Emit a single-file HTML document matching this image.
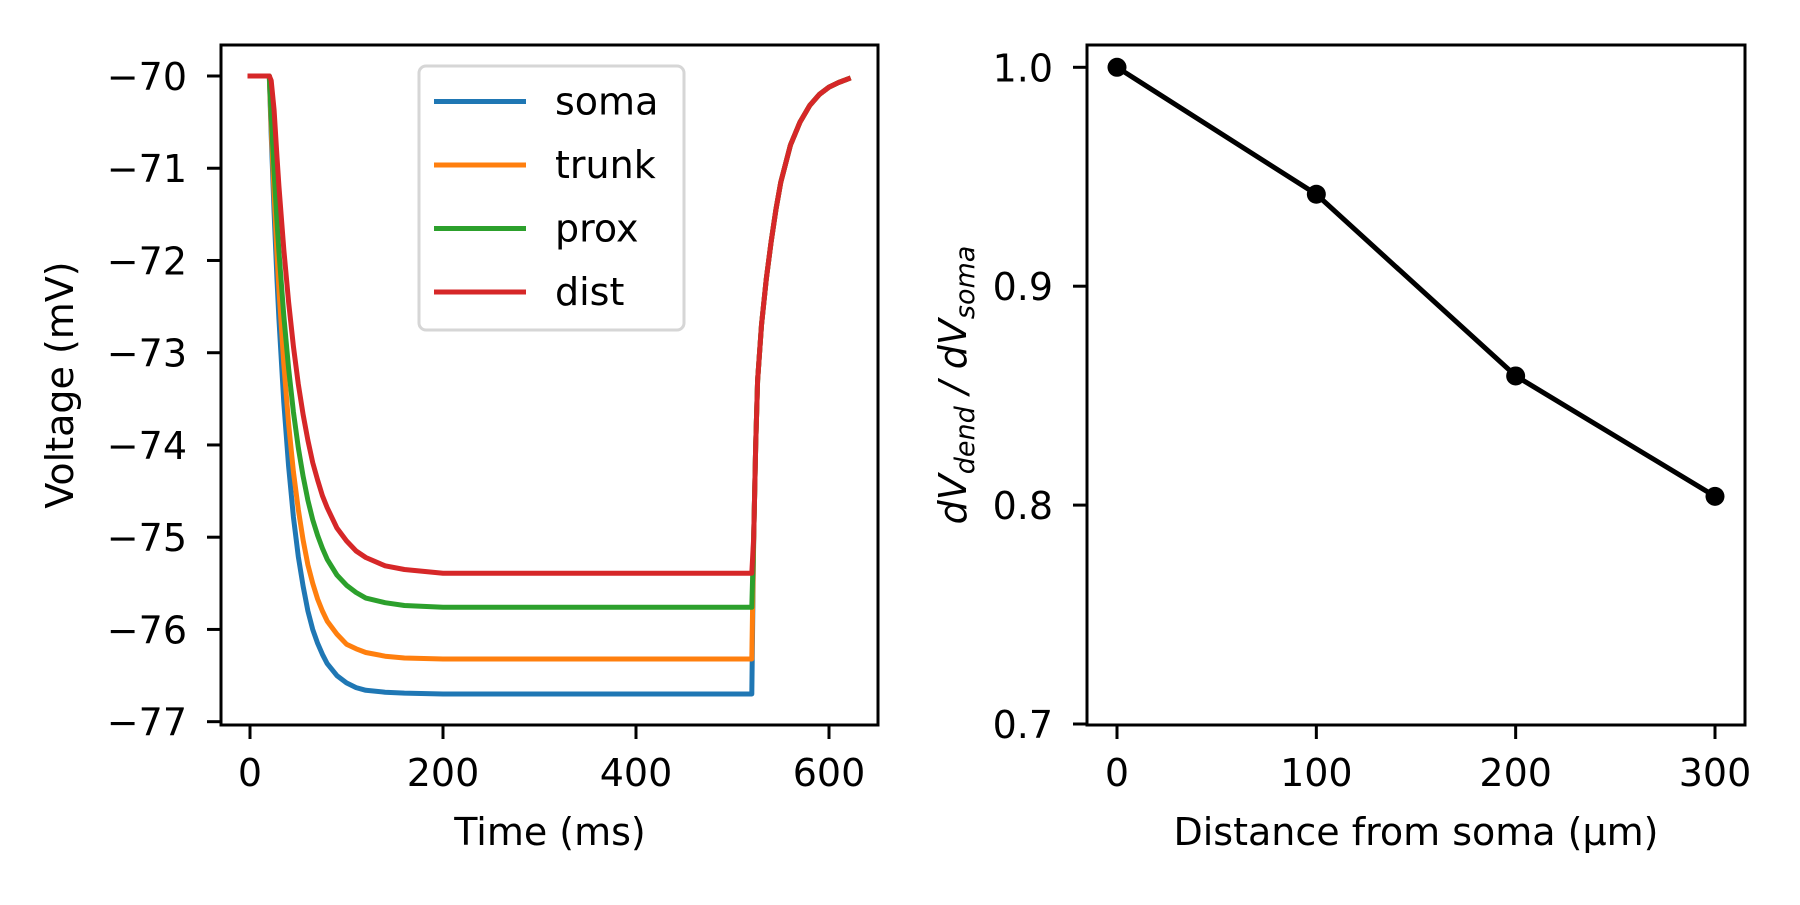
<!DOCTYPE html>
<html><head><meta charset="utf-8"><style>
body{margin:0;background:#fff}
svg text{font-family:"DejaVu Sans","Liberation Sans",sans-serif;fill:#000}
</style></head><body>
<svg id="fig" width="1800" height="900" viewBox="0 0 1800 900" xmlns="http://www.w3.org/2000/svg">
<rect width="1800" height="900" fill="#fff"/>
<g id="left"></g>
<g id="right"></g>
</svg>
<script>
const times=[0,20,22,25,28,30,35,40,45,50,55,60,65,70,75,80,90,100,110,120,140,160,200,300,400,520,522,524,526,530,535,540,545,550,560,570,580,590,600,610,620];
const soma=[-70,-70,-70.64,-71.48,-72.21,-72.63,-73.54,-74.23,-74.78,-75.21,-75.53,-75.80,-76.0,-76.15,-76.27,-76.37,-76.5,-76.58,-76.63,-76.66,-76.68,-76.69,-76.7,-76.7,-76.7,-76.7,-75.0,-74.0,-73.3,-72.7,-72.2,-71.8,-71.45,-71.15,-70.75,-70.5,-70.32,-70.2,-70.12,-70.07,-70.03];
const trunk=[-70,-70,-70.55,-71.28,-71.93,-72.31,-73.12,-73.77,-74.29,-74.70,-75.03,-75.30,-75.50,-75.67,-75.80,-75.91,-76.05,-76.16,-76.21,-76.25,-76.29,-76.31,-76.32,-76.32,-76.32,-76.32,-75.0,-74.0,-73.3,-72.7,-72.2,-71.8,-71.45,-71.15,-70.75,-70.5,-70.32,-70.2,-70.12,-70.07,-70.03];
const prox=[-70,-70,-70.44,-71.04,-71.58,-71.90,-72.60,-73.17,-73.64,-74.03,-74.34,-74.60,-74.81,-74.98,-75.12,-75.24,-75.41,-75.52,-75.60,-75.66,-75.71,-75.74,-75.76,-75.76,-75.76,-75.76,-75.0,-74.0,-73.3,-72.7,-72.2,-71.8,-71.45,-71.15,-70.75,-70.5,-70.32,-70.2,-70.12,-70.07,-70.03];
const dist=[-70,-70,-70.05,-70.37,-70.88,-71.19,-71.88,-72.45,-72.93,-73.34,-73.67,-73.95,-74.19,-74.38,-74.55,-74.68,-74.90,-75.04,-75.15,-75.22,-75.31,-75.35,-75.39,-75.39,-75.39,-75.39,-75.0,-74.0,-73.3,-72.7,-72.2,-71.8,-71.45,-71.15,-70.75,-70.5,-70.32,-70.2,-70.12,-70.07,-70.03];
const seriesNames=["soma","trunk","prox","dist"];
const seriesColors=["#1f77b4","#ff7f0e","#2ca02c","#d62728"];
const leftXTicks=[0,200,400,600];
const leftYTicks=[-70,-71,-72,-73,-74,-75,-76,-77];
const distances=[0,100,200,300];
const ratios=[1.0,0.942,0.859,0.804];
const rightXTicks=[0,100,200,300];
const rightYTicks=[1.0,0.9,0.8,0.7];

const NS="http://www.w3.org/2000/svg";
function mk(p,t,a,txt){const e=document.createElementNS(NS,t);for(const k in a)e.setAttribute(k,a[k]);if(txt!==undefined)e.textContent=txt;p.appendChild(e);return e;}
const L=document.getElementById('left'),R=document.getElementById('right');
const FS=38;
const lx0=221,lx1=878,ty=45,by=725;
const lxs=v=>250+v*(829-250)/600;
const lys=v=>76+(-70-v)*92.24;
function ticks(g,xs,ys,xt,yt,x0,y1,fmtX,fmtY,nameX,nameY){
 xt.forEach(v=>{const x=xs(v);
  const t=mk(g,'line',{x1:x,x2:x,y1:y1,y2:y1+14,stroke:'#000','stroke-width':3});
  
  const l=mk(g,'text',{x:x,y:786,'font-size':FS,'text-anchor':'middle'},fmtX(v));
  });
 yt.forEach(v=>{const y=ys(v);
  const t=mk(g,'line',{x1:x0-14,x2:x0,y1:y,y2:y,stroke:'#000','stroke-width':3});
  
  const l=mk(g,'text',{x:x0-34,y:y+14,'font-size':FS,'text-anchor':'end'},fmtY(v));
  });
}
ticks(L,lxs,lys,leftXTicks,leftYTicks,lx0,by,v=>String(v),v=>'\u2212'+Math.abs(v),'x','y');
seriesNames.forEach((n,i)=>{
 const vals=[soma,trunk,prox,dist][i];
 const d=times.map((t,j)=>(j?'L':'M')+lxs(t).toFixed(1)+','+lys(vals[j]).toFixed(1)).join(' ');
 const p=mk(L,'path',{d:d,fill:'none',stroke:seriesColors[i],'stroke-width':5,'stroke-linejoin':'round','stroke-linecap':'square'});
 
});
const fl=mk(L,'rect',{x:lx0,y:ty,width:lx1-lx0,height:by-ty,fill:'none',stroke:'#000','stroke-width':3});

const lg=mk(L,'g',{});

mk(lg,'rect',{x:419,y:66,width:265,height:264,rx:7,fill:'#fff','fill-opacity':0.8,stroke:'#d6d6d6','stroke-width':3});
seriesNames.forEach((n,i)=>{const y=101.5+i*63.5;
 const e=mk(lg,'g',{});
 
 mk(e,'line',{x1:434,x2:526,y1:y,y2:y,stroke:seriesColors[i],'stroke-width':5});
 mk(e,'text',{x:555,y:y+13,'font-size':FS},n);
});
const xl=mk(L,'text',{x:550,y:845,'font-size':FS,'text-anchor':'middle'},'Time (ms)');

const yl=mk(L,'text',{x:0,y:0,'font-size':FS,'text-anchor':'middle',transform:'translate(73,385) rotate(-90)'},'Voltage (mV)');

const rx0=1087,rx1=1745;
const rxs=v=>1117+v*(1715-1117)/300;
const rys=v=>67.3+(1.0-v)*2189;
ticks(R,rxs,rys,rightXTicks,rightYTicks,rx0,by,v=>String(v),v=>v.toFixed(1),'right-x','right-y');
const rd=distances.map((t,j)=>(j?'L':'M')+rxs(t).toFixed(1)+','+rys(ratios[j]).toFixed(1)).join(' ');
const rl=mk(R,'path',{d:rd,fill:'none',stroke:'#000','stroke-width':5});

distances.forEach((t,j)=>{const c=mk(R,'circle',{cx:rxs(t),cy:rys(ratios[j]),r:9.5,fill:'#000'});
 });
const fr=mk(R,'rect',{x:rx0,y:ty,width:rx1-rx0,height:by-ty,fill:'none',stroke:'#000','stroke-width':3});

const rxl=mk(R,'text',{x:1416,y:845,'font-size':FS,'text-anchor':'middle'},'Distance from soma (\u03bcm)');

const ryl=mk(R,'text',{x:0,y:0,'font-size':FS,'text-anchor':'middle','font-style':'italic',transform:'translate(966,385) rotate(-90)'});
ryl.innerHTML='dV<tspan font-size="27" dy="8">dend</tspan><tspan dy="-8"> / dV</tspan><tspan font-size="27" dy="8">soma</tspan>';

</script>
</body></html>
